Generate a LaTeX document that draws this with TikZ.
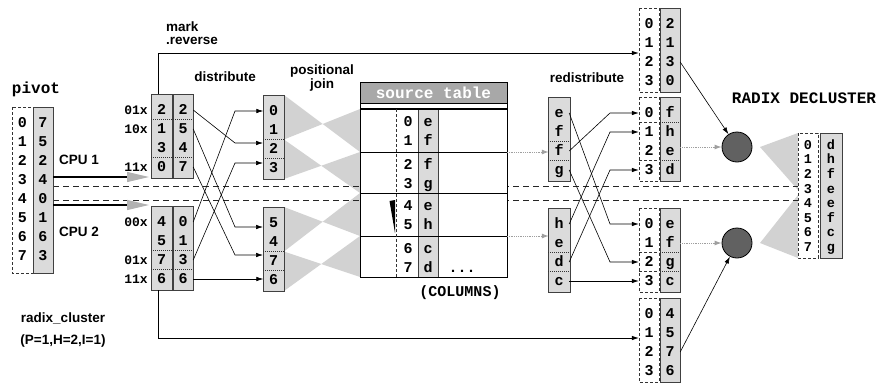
\documentclass[tikz,border=0pt]{standalone}
\usepackage{fontspec}
\setmainfont{Liberation Sans}
\newfontfamily\monof{Liberation Mono}
\usetikzlibrary{arrows.meta}
\newcommand{\mycells}[5]{%
  \foreach \v [count=\i from 0] in {#5} {\node[dig] (#1\i) at (#2,{#3+#4*\i}) {\v};}}
\begin{document}
\begin{tikzpicture}[x=1pt,y=-1pt,
  shd/.style={fill=gray!28, draw=black!75, line width=0.6pt},
  idxbox/.style={draw=black!80, dash pattern=on 3pt off 2pt, line width=0.6pt},
  sepd/.style={draw=black!80, dash pattern=on 1pt off 1pt, line width=0.7pt},
  sepi/.style={draw=black!80, dash pattern=on 3pt off 2pt, line width=0.6pt},
  dig/.style={font=\monof\bfseries\fontsize{15}{15}\selectfont, inner sep=0pt,
    text height=8.5pt, text depth=0pt, minimum width=20pt, anchor=center},
  sdig/.style={dig, font=\monof\bfseries\fontsize{13.5}{13.5}\selectfont, text height=7.5pt},
  lab/.style={font=\bfseries\fontsize{13.5}{15}\selectfont, inner sep=0pt},
  mlab/.style={font=\monof\bfseries\fontsize{16}{16}\selectfont, inner sep=0pt},
  clab/.style={font=\monof\bfseries\fontsize{13}{13}\selectfont, inner sep=0pt, anchor=east},
  bow/.style={fill=gray!35},
  longdash/.style={draw=black!85, line width=0.8pt, dash pattern=on 6pt off 4pt},
  arr/.style={draw=black, line width=0.6pt, -{Latex[length=7pt,width=4.5pt]}},
  grayarr/.style={draw=gray!75, line width=1pt, dash pattern=on 1pt off 0.8pt, -{Latex[length=7pt,width=5pt]}},
  cpuarr/.style={draw=black, line width=1.2pt, -{Triangle[length=22pt,width=10pt,color=gray!60]}},
  circ/.style={circle, draw=black, fill=black!62, minimum size=30pt, inner sep=0pt, line width=0.8pt}
]
\useasboundingbox (0,0) rectangle (883,383);

% ---------- gray bow ties (positional join) ----------
\fill[bow] (284,95) -- (360,152) -- (360,109) -- (284,139.5) -- cycle;
\fill[bow] (284,139.5) -- (360,193) -- (360,152) -- (284,179) -- cycle;
\fill[bow] (284,207) -- (360,236) -- (360,193) -- (284,251.5) -- cycle;
\fill[bow] (284,251.5) -- (360,277) -- (360,236) -- (284,291) -- cycle;
% ---------- decluster triangles ----------
\fill[bow] (760,147) -- (798,133) -- (798,190) -- cycle;
\fill[bow] (760,243) -- (798,195) -- (798,258) -- cycle;

% ---------- long dashed lines ----------
\coordinate (dla) at (53,186); \coordinate (dlb) at (798,186);
\coordinate (dlc) at (53,200); \coordinate (dld) at (798,200);
\draw[longdash] (dla) -- (dlb);
\draw[longdash] (dlc) -- (dld);

% ---------- source table ----------
\fill[white] (360,82) rectangle (507,277);
\fill[gray!68] (360,82) rectangle (507,103);
\draw[shd] (418,109) rectangle (438,277);
\draw[line width=0.8pt] (360,82) rectangle (507,277);
\draw[line width=0.6pt] (360,103) -- (507,103);
\draw[line width=1.3pt] (360,109) -- (507,109);
\foreach \yy in {152,193,236} \draw[line width=0.8pt] (360,\yy) -- (507,\yy);
\draw[idxbox] (396,109) -- (396,277);
\node[mlab, text=white] (srctitle) at (433.5,93) {source table};
\foreach \v/\l/\yy [count=\i from 0] in {0/e/122,1/f/141,2/f/165,3/g/184,4/e/206,5/h/225,6/c/249,7/d/268} {
  \node[dig] (tix\i) at (408,\yy) {\v};
  \node[dig] (tv\i) at (428,\yy) {\l};
}
\node[dig] (dots) at (462,268) {...};
\node[mlab, font=\monof\bfseries\fontsize{15}{15}\selectfont] (columns) at (460,293) {(COLUMNS)};
\fill (389.5,201) -- (395,200) -- (395,233) -- cycle;

% ---------- pivot ----------
\node[mlab] (pivotlab) at (36,89) {pivot};
\draw[idxbox] (12,107) rectangle (33,273);
\draw[shd] (33,107) rectangle (53,273);
\mycells{pi}{22.5}{123}{19}{0,1,2,3,4,5,6,7}
\mycells{pv}{43}{123}{19}{7,5,2,4,0,1,6,3}
\node[lab] (cpu1) at (79,160) {CPU 1};
\node[lab] (cpu2) at (79,232) {CPU 2};
\coordinate (c1s) at (53,177); \coordinate (c1e) at (149,177);
\coordinate (c2s) at (53,205); \coordinate (c2e) at (149,205);
\draw[cpuarr] (c1s) -- (c1e);
\draw[cpuarr] (c2s) -- (c2e);

% ---------- distribute ----------
\node[lab] (distlab) at (225,77) {distribute};
\draw[shd] (151,94) rectangle (172,178);
\draw[shd] (173,94) rectangle (193,178);
\draw[sepd] (151,119.5) -- (193,119.5);
\draw[sepd] (151,157.5) -- (193,157.5);
\mycells{uA}{161.5}{110}{19}{2,1,3,0}
\mycells{uB}{183}{110}{19}{2,5,4,7}
\node[clab] (ul0) at (148,110) {01x};
\node[clab] (ul1) at (148,129) {10x};
\node[clab] (ul3) at (148,167) {11x};
\draw[shd] (151,206) rectangle (172,290);
\draw[shd] (173,206) rectangle (193,290);
\draw[sepd] (151,250.5) -- (193,250.5);
\draw[sepd] (151,269.5) -- (193,269.5);
\mycells{lA}{161.5}{222}{19}{4,5,7,6}
\mycells{lB}{183}{222}{19}{0,1,3,6}
\node[clab] (ll0) at (148,222) {00x};
\node[clab] (ll2) at (148,260) {01x};
\node[clab] (ll3) at (148,279) {11x};

% ---------- positional join ----------
\node[lab] (posl1) at (322,71) {positional};
\node[lab] (posl2) at (322,85) {join};
\draw[shd] (263,95) rectangle (284,179);
\draw[sepd] (263,139.5) -- (284,139.5);
\draw[sepd] (263,158.5) -- (284,158.5);
\mycells{jU}{273.5}{111}{19}{0,1,2,3}
\draw[shd] (263,207) rectangle (284,291);
\draw[sepd] (263,251.5) -- (284,251.5);
\draw[sepd] (263,270.5) -- (284,270.5);
\mycells{jL}{273.5}{223}{19}{5,4,7,6}

% distribute -> join connectors
\coordinate (db) at (235,0);
\coordinate (jUt2) at (263,143); \coordinate (jUt3) at (263,163);
\coordinate (jLt0) at (263,227); \coordinate (jLt2) at (263,255);
\draw[arr] (uB0.east) -- (jUt2 -| db) -- (jUt2);
\draw[arr] (uB1.east) -- (jLt0 -| db) -- (jLt0);
\draw[arr] (uB3.east) -- (jLt2 -| db) -- (jLt2);
\draw[arr] (lB0.east) -- (jU0.west -| db) -- (jU0.west);
\draw[arr] (lB2.east) -- (jUt3 -| db) -- (jUt3);
\draw[arr] (lB3.east) -- (lB3.east -| jL3.west);

% ---------- mark.reverse lines ----------
\node[lab, anchor=west] (markl1) at (166,27) {mark};
\node[lab, anchor=west] (markl2) at (166,41) {.reverse};
\coordinate (uAtop) at (158,94); \coordinate (mrt) at (158,53);
\coordinate (lAbot) at (158,290); \coordinate (mrb) at (158,338);

% ---------- redistribute ----------
\node[lab] (redistlab) at (587,78) {redistribute};
\draw[shd] (548,97) rectangle (570,181);
\draw[sepd] (548,141.5) -- (570,141.5);
\draw[sepd] (548,160.5) -- (570,160.5);
\mycells{rU}{559}{113}{19}{e,f,f,g}
\draw[shd] (548,208) rectangle (570,292);
\draw[sepd] (548,252.5) -- (570,252.5);
\draw[sepd] (548,271.5) -- (570,271.5);
\mycells{rL}{559}{224}{19}{h,e,d,c}
\coordinate (tab1) at (507,152); \coordinate (tab2) at (507,236);
\draw[grayarr] (tab1) -- (tab1 -| rU2.west);
\draw[grayarr] (tab2) -- (tab2 -| rL1.west);

% ---------- right boxes ----------
\draw[idxbox] (639,8) rectangle (659,92);
\draw[shd] (660,8) rectangle (680,92);
\mycells{ai}{649}{24}{19}{0,1,2,3}
\mycells{av}{670}{24}{19}{2,1,3,0}
\draw[idxbox] (639,97) rectangle (659,181);
\draw[shd] (660,97) rectangle (680,181);
\draw[sepi] (639,122.5) -- (659,122.5); \draw[sepd] (660,122.5) -- (680,122.5);
\draw[sepi] (639,160.5) -- (659,160.5); \draw[sepd] (660,160.5) -- (680,160.5);
\mycells{bi}{649}{113}{19}{0,1,2,3}
\mycells{bv}{670}{113}{19}{f,h,e,d}
\draw[idxbox] (639,208) rectangle (659,292);
\draw[shd] (660,208) rectangle (680,292);
\draw[sepi] (639,252.5) -- (659,252.5); \draw[sepd] (660,252.5) -- (680,252.5);
\draw[sepi] (639,271.5) -- (659,271.5); \draw[sepd] (660,271.5) -- (680,271.5);
\mycells{ci}{649}{224}{19}{0,1,2,3}
\mycells{cv}{670}{224}{19}{e,f,g,c}
\draw[idxbox] (639,298) rectangle (659,382);
\draw[shd] (660,298) rectangle (680,382);
\mycells{di}{649}{314}{19}{0,1,2,3}
\mycells{dv}{670}{314}{19}{4,5,7,6}

\draw[arr] (uAtop) -- (mrt) -- (mrt -| ai0.west);
\draw[arr] (lAbot) -- (mrb) -- (mrb -| di0.west);

% redistribute connectors
\coordinate (rb) at (610,0);
\draw[arr] (rU2.east) -- (bi0.west -| rb) -- (bi0.west);
\draw[arr] (rU0.east) -- (ci0.west -| rb) -- (ci0.west);
\draw[arr] (rU3.east) -- (ci2.west -| rb) -- (ci2.west);
\draw[arr] (rL0.east) -- (bi1.west -| rb) -- (bi1.west);
\draw[arr] (rL2.east) -- (bi3.west -| rb) -- (bi3.west);
\draw[arr] (rL3.east) -- (ci3.west);

% ---------- radix decluster ----------
\node[circ] (k1) at (737,147) {};
\node[circ] (k2) at (737,243) {};
\draw[arr] (av2.east) -- (k1);
\draw[arr] (dv2.east) -- (k2);
\draw[grayarr] (k1 -| bv1.east) -- (k1);
\draw[grayarr] (k2 -| cv1.east) -- (k2);
\node[mlab] (radixlab) at (804,98) {RADIX DECLUSTER};
\draw[idxbox] (798,133) rectangle (818,258);
\draw[shd] (820,133) rectangle (842,258);
\foreach \v/\l [count=\i from 0] in {0/d,1/h,2/f,3/e,4/e,5/f,6/c,7/g} {
  \node[sdig] (xix\i) at (808,{145.5+14.6*\i}) {\v};
  \node[sdig] (xv\i) at (831,{145.5+14.6*\i}) {\l};
}

% ---------- radix_cluster label ----------
\node[lab] (rcl1) at (63,318) {radix\_cluster};
\node[lab] (rcl2) at (63,341) {(P=1,H=2,I=1)};
\end{tikzpicture}
\end{document}
